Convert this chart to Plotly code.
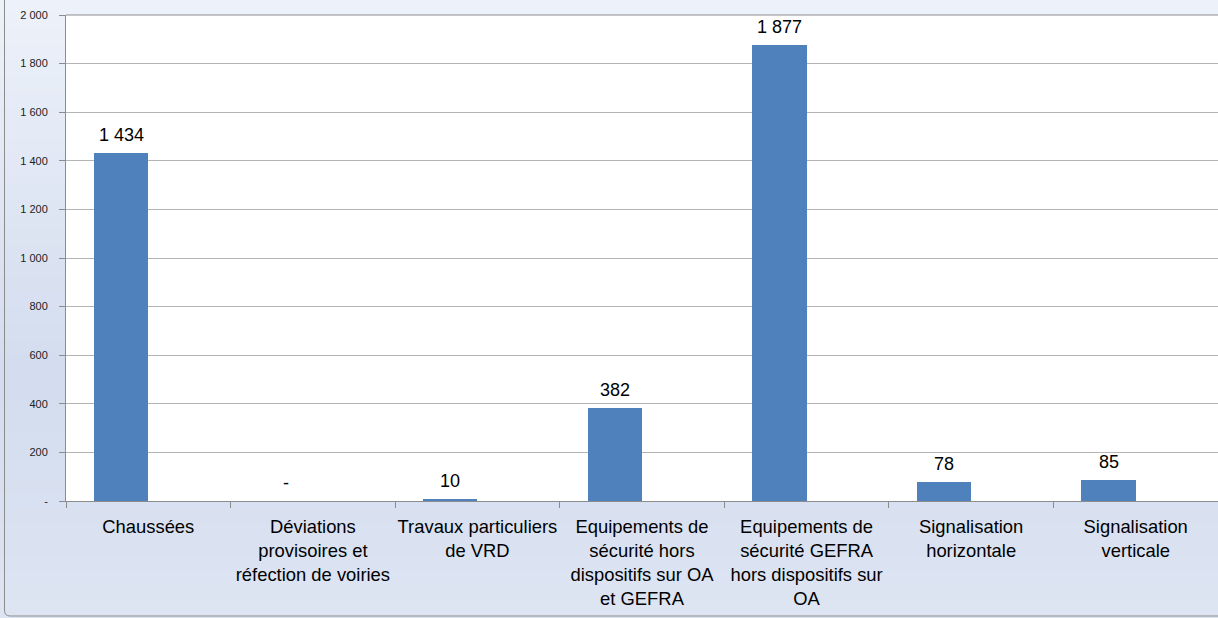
import plotly.graph_objects as go

categories = [
    "Chaussées",
    "Déviations<br>provisoires et<br>réfection de voiries",
    "Travaux particuliers<br>de VRD",
    "Equipements de<br>sécurité hors<br>dispositifs sur OA<br>et GEFRA",
    "Equipements de<br>sécurité GEFRA<br>hors dispositifs sur<br>OA",
    "Signalisation<br>horizontale",
    "Signalisation<br>verticale",
]
values = [1434, 0, 10, 382, 1877, 78, 85]
y_ticks = [0, 200, 400, 600, 800, 1000, 1200, 1400, 1600, 1800, 2000]


def fmt(v):
    return "-" if v == 0 else f"{v:,}".replace(",", " ")


labels = [fmt(v) for v in values]
y_ticktext = [fmt(v) for v in y_ticks]

FONT = "Liberation Sans, Arial, sans-serif"
W, H = 1218, 618
L, R, T, B = 66, 0, 15, 117
pw, ph = W - L - R, H - T - B
BAR_W = 0.33


def px_x(x):
    return (x - L) / pw


def px_y(y):
    return (H - B - y) / ph


fig = go.Figure()
fig.add_trace(go.Bar(
    x=categories,
    y=values,
    width=BAR_W,
    offset=-BAR_W,
    marker=dict(color="#4f81bd", line=dict(width=0)),
    hoverinfo="x+y",
))

# data labels centred above each bar
cat_px = pw / len(categories)
annotations = []
for c, v, t in zip(categories, values, labels):
    annotations.append(dict(
        x=c, y=v, xref="x", yref="y", text=t, showarrow=False,
        xanchor="center", yanchor="bottom",
        xshift=-BAR_W / 2 * cat_px, yshift=6,
        font=dict(family=FONT, size=18, color="#000000"),
    ))

# background gradient bands (paper)
shapes = []
top_c = (238, 242, 250)
mid_c = (211, 221, 239)
bot_c = (222, 229, 243)
n = 40
for i in range(n):
    y0 = i * H / n
    y1 = (i + 1) * H / n
    t = (y0 + y1) / 2 / H
    if t < 0.6:
        f = t / 0.6
        c = tuple(int(top_c[k] + (mid_c[k] - top_c[k]) * f) for k in range(3))
    else:
        f = (t - 0.6) / 0.4
        c = tuple(int(mid_c[k] + (bot_c[k] - mid_c[k]) * f) for k in range(3))
    shapes.append(dict(
        type="rect", xref="paper", yref="paper",
        x0=px_x(-2), x1=px_x(W + 2), y0=px_y(y1 + 1), y1=px_y(y0 - 1),
        fillcolor=f"rgb{c}", line=dict(width=0), layer="below",
    ))
# white plot area
shapes.append(dict(type="rect", xref="paper", yref="paper", x0=0, x1=1, y0=0, y1=1,
                   fillcolor="white", line=dict(width=0), layer="below"))
# outer frame (left edge with rounded bottom corner)
x4, yb = px_x(4.5), px_y(616)
shapes.append(dict(
    type="path", xref="paper", yref="paper",
    path=f"M {x4},{px_y(-2)} L {x4},{px_y(610)} Q {x4},{yb} {px_x(10)},{yb} L {px_x(1230)},{yb}",
    line=dict(color="#8c8c8c", width=1),
))
# top border of plot area
shapes.append(dict(type="line", xref="paper", yref="paper", x0=0, x1=1, y0=1, y1=1,
                   line=dict(color="#8c8c8c", width=1)))

fig.update_layout(
    width=W, height=H,
    margin=dict(l=L, r=R, t=T, b=B, autoexpand=False),
    paper_bgcolor="#dde5f3",
    plot_bgcolor="white",
    showlegend=False,
    bargap=0,
    shapes=shapes,
    annotations=annotations,
    font=dict(family=FONT, color="#000000"),
)
fig.update_xaxes(
    type="category",
    tickson="boundaries",
    ticks="outside",
    ticklen=6,
    tickcolor="#8c8c8c",
    showline=True,
    linecolor="#8c8c8c",
    linewidth=1,
    showgrid=False,
    tickangle=0,
    automargin=False,
    ticklabelstandoff=9,
    tickfont=dict(family=FONT, size=18.4, color="#000000"),
    fixedrange=True,
)
fig.update_yaxes(
    range=[0, 2000],
    tickvals=y_ticks,
    ticktext=y_ticktext,
    ticks="outside",
    ticklen=6,
    tickcolor="#8c8c8c",
    showline=True,
    linecolor="#8c8c8c",
    linewidth=1,
    showgrid=True,
    gridcolor="#b4b4b4",
    gridwidth=1,
    zeroline=False,
    automargin=False,
    ticklabelstandoff=9,
    tickfont=dict(family=FONT, size=11, color="#222222"),
    fixedrange=True,
)

fig.write_html("out.html", config={"displayModeBar": False})

# remove the default page margin so the chart fills the window exactly
with open("out.html", encoding="utf-8") as fh:
    html = fh.read()
html = html.replace("<head>", "<head><style>html,body{margin:0;padding:0;overflow:hidden;}</style>", 1)
with open("out.html", "w", encoding="utf-8") as fh:
    fh.write(html)
